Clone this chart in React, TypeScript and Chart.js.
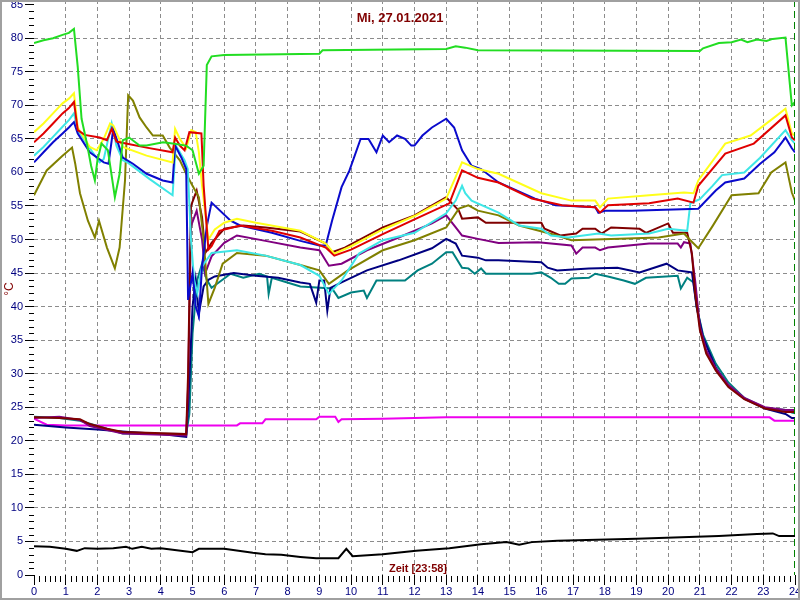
import { useEffect, useRef } from 'react';
import { Chart, registerables } from 'chart.js';

Chart.register(...registerables);

const titleText = 'Mi, 27.01.2021';
const xAxisTitle = 'Zeit [23:58]';
const yAxisTitle = '°C';

const hourLabels = Array.from({ length: 25 }, (_, i) => String(i));
const tempTickValues = Array.from({ length: 18 }, (_, i) => i * 5);
const minorPerHour = 6;

type P = [number, number];

const lime: P[] = [[0,79.3],[0.3,79.7],[0.6,80],[0.9,80.5],[1.1,80.8],[1.26,81.4],[1.38,75.7],[1.5,68],[1.67,64.3],[1.8,61],[1.92,58.8],[2.0,61.8],[2.13,64.3],[2.33,63.3],[2.55,56.3],[2.7,59.8],[2.8,64.8],[3.0,65.2],[3.33,64],[3.55,64],[4.07,64.5],[4.37,64.3],[4.8,64],[5.0,63.3],[5.2,59.8],[5.35,61],[5.45,76],[5.6,77.3],[6.0,77.5],[9.0,77.7],[9.1,78.2],[13.0,78.4],[13.3,78.8],[13.6,78.6],[14.0,78.2],[21.0,78.1],[21.1,78.5],[21.6,79.3],[22.0,79.4],[22.3,79.8],[22.5,79.4],[22.8,79.8],[23.1,79.6],[23.3,79.9],[23.7,80.1],[23.9,70],[24,70.5]];

const yellow: P[] = [[0,66],[0.3,67.3],[0.6,68.8],[0.9,70.3],[1.1,71],[1.26,71.8],[1.38,66.7],[1.76,63.8],[1.98,63.3],[2.2,65],[2.4,67.3],[2.5,67],[2.8,63.8],[3.55,62.5],[4.37,61.5],[4.45,66.5],[4.6,65],[4.8,63.6],[4.96,66.3],[5.1,66],[5.2,63],[5.3,58],[5.5,50],[5.7,51.5],[6.0,52.5],[6.4,53.1],[7,52.5],[8.4,51.3],[9.2,49.4],[9.47,47.9],[10,49],[11,51.5],[12,53.5],[13.0,56.1],[13.5,61.5],[14.0,60.5],[14.65,59.8],[16,56.9],[16.95,55.8],[17.7,55.8],[17.85,54.8],[18.1,56.1],[19.4,56.6],[20.5,57],[20.8,56.9],[20.95,58.8],[21.8,64.3],[22.6,65.5],[23.35,68.2],[23.7,69.5],[23.9,65.8],[24,65.5]];

const red: P[] = [[0,64.5],[0.3,65.8],[0.6,67.3],[0.9,68.8],[1.1,69.6],[1.26,70.5],[1.38,66.3],[1.6,65.6],[2.07,65.2],[2.3,64.8],[2.45,66.5],[2.6,64.6],[2.9,64.3],[3.55,63.7],[4.37,63],[4.45,65.2],[4.6,64],[4.75,63.3],[4.9,66],[5.28,65.8],[5.35,58],[5.5,48.5],[5.6,49],[5.85,51.3],[6.5,52.1],[7.5,51.3],[8.4,50.3],[9.2,48.8],[9.47,47.6],[10,48.5],[11,50.8],[12,53],[13.1,55.4],[13.5,60.3],[14.0,59.2],[14.65,58.5],[15.7,56.1],[16.65,55.1],[17.7,54.8],[17.85,54],[18.1,55.1],[19.4,55.4],[20.3,56.1],[20.8,55.5],[20.95,58],[21.8,62.8],[22.7,64.3],[23.7,68.5],[23.9,65.2],[24,64.8]];

const cyan: P[] = [[0,62.5],[0.3,63.8],[0.6,65.3],[0.9,66.8],[1.1,67.8],[1.26,68.8],[1.38,66.3],[1.76,63.6],[2.07,61.5],[2.2,62],[2.45,67.3],[2.6,64],[2.8,61.8],[2.95,61.5],[3.65,59],[4.37,56.6],[4.47,64],[4.6,63],[4.75,61.8],[4.85,60.5],[4.95,50],[5.05,44],[5.15,42],[5.3,46],[5.6,48],[6.4,48.4],[7.3,47.6],[8.4,46.2],[9.0,44.6],[9.3,41.9],[9.7,43.9],[10.25,47.9],[11,49.9],[12,51],[13,53.9],[13.3,55.8],[13.5,58],[13.6,56.9],[13.8,55.8],[14.65,54],[15.3,52.1],[16,51.6],[16.3,50.6],[16.85,50.3],[17.8,50.9],[18.2,50.6],[19.4,50.9],[20,51.6],[20.6,51.3],[20.7,55.4],[21.0,56],[21.4,58],[21.7,59.6],[22.4,60],[22.9,62.2],[23.7,66.3],[23.9,64.8],[24,64.3]];

const blue: P[] = [[0,61.5],[0.3,63],[0.6,64.5],[0.9,65.8],[1.1,66.7],[1.26,67.5],[1.38,65.8],[1.76,63],[2.2,61.5],[2.35,61.3],[2.5,66.5],[2.8,62.2],[3.12,61.3],[3.55,59.8],[4.06,58.8],[4.37,58.5],[4.45,64],[4.65,62.2],[4.8,60.5],[4.86,41],[5.0,45],[5.1,40],[5.2,38.5],[5.3,46],[5.45,52],[5.6,55.5],[6.2,52.8],[6.5,52.1],[7.5,51],[8.4,49.8],[9.0,49.1],[9.2,49.1],[9.4,52.8],[9.7,57.8],[9.95,60.3],[10.3,65],[10.55,65],[10.8,63],[11,65.5],[11.2,64.5],[11.45,65.5],[11.7,65],[11.9,64],[12,64],[12.25,65.5],[12.55,66.7],[13.0,68],[13.25,66.7],[13.5,63.3],[13.8,61],[14.1,60.5],[14.65,58.5],[15.8,56.1],[16.2,55.5],[16.45,55.1],[17.7,54.8],[17.8,54],[18,54.3],[18.85,54.3],[20.95,54.6],[21.5,57.3],[21.8,58.5],[22.4,59.1],[22.9,61.3],[23.35,63],[23.7,65.2],[23.9,63.6],[24,63]];

const olive: P[] = [[0,56.6],[0.4,60.3],[0.9,62.5],[1.2,63.7],[1.3,61.3],[1.45,56.9],[1.7,52.8],[1.92,50.3],[2.05,52.8],[2.3,48.8],[2.55,45.7],[2.7,48.8],[2.87,58.8],[2.97,71.5],[3.12,70.7],[3.33,68.2],[3.55,66.7],[3.75,65.5],[4.06,65.5],[4.28,63.7],[4.6,61.8],[4.8,59.8],[5.0,58],[5.2,56.3],[5.35,50],[5.5,40.4],[5.7,42.8],[5.95,46.4],[6.4,48],[7.3,47.6],[8.4,46.2],[9.0,45.4],[9.3,43.4],[9.9,45.4],[11,48.4],[12,49.9],[13,51.8],[13.4,54.6],[13.7,55.1],[14,54.3],[14.65,53.6],[15.3,52.1],[16.5,50.6],[16.95,49.9],[19.7,50.3],[20.5,50.9],[20.7,49.9],[20.95,48.7],[21.4,52],[22,56.6],[22.85,56.9],[23.25,60],[23.7,61.5],[23.9,57],[24,55.8]];

const maroon: P[] = [[0,23.5],[0.8,23.4],[1.45,23.2],[1.76,22.5],[2.3,21.8],[2.8,21.3],[4.8,21],[4.86,30],[4.95,55],[5.13,57.3],[5.3,53.3],[5.4,48],[5.6,49.5],[6.0,51.6],[6.6,52.1],[7.3,51.8],[8.4,51.2],[9.2,49.4],[9.4,48.1],[9.8,48.8],[11,51.8],[12,53.6],[13,56.3],[13.4,54.3],[13.5,53.1],[14,53.3],[14.25,52.5],[15.3,52.5],[16,52.5],[16.1,51.6],[16.6,50.6],[17.1,50.9],[17.3,51.6],[17.7,51.6],[17.9,50.9],[18.2,51.8],[19.1,51.6],[19.3,51],[20,52.4],[20.15,51],[20.6,51],[20.75,47.9],[20.85,42],[21.0,36.5],[21.2,33],[21.5,30.5],[21.9,28],[22.4,26.2],[23.05,24.8],[23.7,24.3],[24,24.3]];

const purple: P[] = [[0,23.4],[0.8,23.6],[1.45,23.1],[1.76,22.2],[2.8,21.1],[4.8,20.8],[4.86,28],[4.95,52],[5.13,54.3],[5.3,50],[5.4,45],[5.6,47.5],[6.0,49.5],[6.4,50.6],[7.3,49.8],[8.4,48.8],[9,48.4],[9.3,46.1],[9.7,46.4],[10.5,48.4],[11.5,50.3],[12.55,52.4],[13,53.6],[13.3,51.8],[13.5,50.6],[14,50.1],[14.65,49.5],[15.9,49.6],[16.95,49.1],[17.1,47.9],[17.3,48.8],[17.7,48.8],[17.85,48.4],[18.1,48.8],[19.4,49.4],[20.3,49.4],[20.4,48.8],[20.5,49.6],[20.7,49.4],[20.85,43.9],[21.0,37],[21.2,33.5],[21.5,30.8],[21.9,28.3],[22.4,26.4],[23.05,25],[23.7,24.6],[24,24.6]];

const navy: P[] = [[0,22.4],[1,22.0],[2,21.7],[3,21.3],[4,21],[4.8,20.6],[4.86,25],[5.0,40],[5.1,44],[5.2,39],[5.35,43],[5.5,44],[5.7,44.5],[6.3,45],[7,44.6],[7.7,44.3],[8.4,43.6],[8.7,43.4],[8.9,40.6],[9.0,43.9],[9.15,43.9],[9.25,39.4],[9.35,42.8],[9.7,43.6],[10.5,45.4],[11.5,46.9],[12.55,48.7],[13,50.1],[13.3,49.4],[13.5,47.6],[14,47.3],[14.25,46.9],[14.65,46.9],[16,46.6],[16.2,45.8],[16.5,45.4],[17.5,45.7],[18.4,45.8],[19.1,45.1],[19.95,46.4],[20.3,45.4],[20.75,45.1],[20.9,39.9],[21.1,35.4],[21.5,30.9],[21.9,28.2],[22.4,26.3],[23.05,24.8],[23.7,24],[23.9,23.4],[24,23.4]];

const teal: P[] = [[0,23.6],[0.8,23.4],[1.45,23],[2,22.2],[2.3,21.8],[2.8,21.1],[4.8,21],[4.9,24],[5.0,36],[5.15,44],[5.3,46.4],[5.45,44],[5.6,42.8],[6.2,44.9],[6.6,44.3],[7.1,44.9],[7.35,44.5],[7.4,41.9],[7.5,44.3],[8.4,43],[9.4,42.7],[9.6,41.3],[10,42.1],[10.4,42.4],[10.5,41.3],[10.8,43.9],[11.7,43.9],[12.1,45.4],[12.55,46.4],[13,48.1],[13.2,48.1],[13.5,45.8],[13.7,45.7],[13.9,44.9],[14.1,45.7],[14.25,44.9],[15.7,44.9],[16,45.1],[16.3,44.3],[16.55,43.4],[16.75,43.4],[16.95,44.2],[17.5,44.3],[17.7,44.9],[18.1,44.5],[18.6,43.9],[18.95,43.4],[19.3,44.3],[20.3,44.6],[20.4,42.7],[20.6,44.3],[20.8,43.6],[20.9,39.9],[21.1,35.8],[21.5,31.5],[21.9,28.7],[22.4,26.4],[23.05,24.9],[23.7,24.6],[23.9,24.2],[24,24.1]];

const magenta: P[] = [[0,23.3],[0.4,22.4],[1,22.3],[6.4,22.3],[6.5,22.6],[7.2,22.6],[7.3,23.2],[8.9,23.2],[9.0,23.6],[9.5,23.6],[9.6,22.8],[9.7,23.2],[11,23.3],[13,23.5],[23.2,23.5],[23.35,23.0],[24,23.0]];

const black: P[] = [[0,4.3],[0.5,4.2],[1,3.9],[1.35,3.6],[1.6,4],[2,3.9],[2.5,4.0],[2.9,4.2],[3.1,3.9],[3.4,4.2],[3.7,3.9],[4,4.0],[4.5,3.7],[5,3.4],[5.2,3.9],[6,3.9],[6.9,3.3],[7.3,3.1],[7.8,3.0],[8.4,2.7],[8.9,2.5],[9.6,2.5],[9.85,3.9],[10.05,2.8],[11,3.1],[12.05,3.6],[13.1,4.0],[14.1,4.6],[14.9,4.9],[15.3,4.5],[15.7,4.9],[16.5,5.1],[19,5.4],[21.6,5.8],[22.8,6.1],[23.3,6.2],[23.5,5.8],[24,5.8]];

const toXY = (s: P[]) => s.map(([x, y]) => ({ x, y }));

const FONT = '"Liberation Sans", Arial, sans-serif';

const overlayPlugin = {
  id: 'overlay',
  beforeDraw(chart: any) {
    const { ctx, width, height } = chart;
    ctx.save();
    ctx.fillStyle = '#ffffff';
    ctx.fillRect(0, 0, width, height);
    ctx.restore();
  },
  afterDatasetsDraw(chart: any) {
    const { ctx, chartArea, scales } = chart;
    const x = Math.round(scales.x.getPixelForValue(24)) - 0.5;
    ctx.save();
    ctx.strokeStyle = '#008000';
    ctx.lineWidth = 1;
    ctx.setLineDash([7, 4]);
    ctx.beginPath();
    ctx.moveTo(x, 0);
    ctx.lineTo(x, chartArea.bottom);
    ctx.stroke();
    ctx.restore();
  },
  afterDraw(chart: any) {
    const { ctx, width, height, chartArea, scales } = chart;
    // minor tick marks
    ctx.save();
    ctx.strokeStyle = '#000000';
    ctx.lineWidth = 1;
    ctx.beginPath();
    for (let i = 0; i <= 24 * minorPerHour; i++) {
      if (i % minorPerHour === 0) continue;
      const x = Math.round(scales.x.getPixelForValue(i / minorPerHour)) + 0.5;
      ctx.moveTo(x, chartArea.bottom + 1);
      ctx.lineTo(x, chartArea.bottom + 7);
    }
    for (let v = 0; v <= 85; v++) {
      if (v % 5 === 0) continue;
      const y = Math.round(scales.y.getPixelForValue(v)) + 0.5;
      ctx.moveTo(chartArea.left - 5, y);
      ctx.lineTo(chartArea.left, y);
    }
    ctx.stroke();
    ctx.restore();

    ctx.save();
    ctx.fillStyle = '#800000';
    ctx.textAlign = 'center';
    ctx.textBaseline = 'middle';
    ctx.font = `bold 13px ${FONT}`;
    ctx.fillText(titleText, 400, 18);
    ctx.font = `bold 11px ${FONT}`;
    ctx.fillText(xAxisTitle, 418, 569);
    ctx.translate(10, 289);
    ctx.rotate(-Math.PI / 2);
    ctx.font = `12px ${FONT}`;
    ctx.fillText(yAxisTitle, 0, 0);
    ctx.restore();

    ctx.save();
    ctx.strokeStyle = '#a0a0a0';
    ctx.lineWidth = 2;
    ctx.strokeRect(1, 1, width - 2, height - 2);
    ctx.restore();
  },
};

const seriesDefs: { label: string; data: P[]; color: string }[] = [
  { label: 'Vorlauf Kessel', data: lime, color: '#22dd22' },
  { label: 'Fühler 2', data: red, color: '#e00000' },
  { label: 'Fühler 3', data: yellow, color: '#ffff1a' },
  { label: 'Fühler 4', data: blue, color: '#0a0acc' },
  { label: 'Fühler 5', data: cyan, color: '#3ee6e6' },
  { label: 'Fühler 6', data: olive, color: '#808000' },
  { label: 'Fühler 7', data: maroon, color: '#800000' },
  { label: 'Fühler 8', data: purple, color: '#800080' },
  { label: 'Fühler 9', data: navy, color: '#000080' },
  { label: 'Fühler 10', data: teal, color: '#008080' },
  { label: 'Raum', data: magenta, color: '#ee00ee' },
  { label: 'Außen', data: black, color: '#000000' },
];

export default function App() {
  const canvasRef = useRef<HTMLCanvasElement | null>(null);

  useEffect(() => {
    const canvas = canvasRef.current;
    if (!canvas) return;
    const chart = new Chart(canvas, {
      type: 'line',
      data: {
        datasets: seriesDefs.map((s) => ({
          label: s.label,
          data: toXY(s.data),
          borderColor: s.color,
          backgroundColor: s.color,
          borderWidth: 2,
          pointRadius: 0,
          tension: 0,
          fill: false,
        })),
      },
      options: {
        animation: false,
        responsive: false,
        maintainAspectRatio: false,
        layout: { padding: { top: 0, right: 5, left: 0, bottom: 0 } },
        plugins: {
          legend: { display: false },
          tooltip: { enabled: false },
          title: { display: false },
        },
        scales: {
          x: {
            type: 'linear',
            min: 0,
            max: 24,
            afterBuildTicks(scale: any) {
              scale.ticks = hourLabels.map((_, i) => ({ value: i }));
            },
            afterFit(scale: any) {
              scale.height = 25;
              scale.paddingLeft = 0;
              scale.paddingRight = 0;
            },
            ticks: {
              autoSkip: false,
              maxRotation: 0,
              minRotation: 0,
              padding: 0,
              color: '#000080',
              font: { family: FONT, size: 11 },
              callback: (_v: any, index: number) => hourLabels[index],
            },
            grid: {
              color: (c: any) => (c.index > 0 && c.index < 24 ? '#8c8c8c' : 'rgba(0,0,0,0)'),
              lineWidth: 1,
              tickColor: '#000000',
              tickLength: 10,
              drawTicks: true,
            },
            border: { display: false, dash: [4, 3] },
          },
          y: {
            type: 'linear',
            min: 0,
            max: 85.7,
            afterBuildTicks(scale: any) {
              scale.ticks = tempTickValues.map((v) => ({ value: v }));
            },
            afterFit(scale: any) {
              scale.width = 34;
              scale.paddingTop = 0;
              scale.paddingBottom = 0;
            },
            ticks: {
              autoSkip: false,
              padding: 2,
              color: '#000080',
              font: { family: FONT, size: 11 },
              callback: (v: any) => String(v),
            },
            grid: {
              color: (c: any) =>
                c.tick && c.tick.value > 0 && c.tick.value < 85 ? '#8c8c8c' : 'rgba(0,0,0,0)',
              lineWidth: 1,
              tickColor: '#000000',
              tickLength: 9,
            },
            border: { display: false, dash: [4, 3] },
          },
        },
      },
      plugins: [overlayPlugin],
    });
    return () => chart.destroy();
  }, []);

  return (
    <div style={{ position: 'fixed', left: 0, top: 0, width: 800, height: 600, background: '#fff' }}>
      <canvas ref={canvasRef} width={800} height={600} style={{ display: 'block' }} />
    </div>
  );
}
